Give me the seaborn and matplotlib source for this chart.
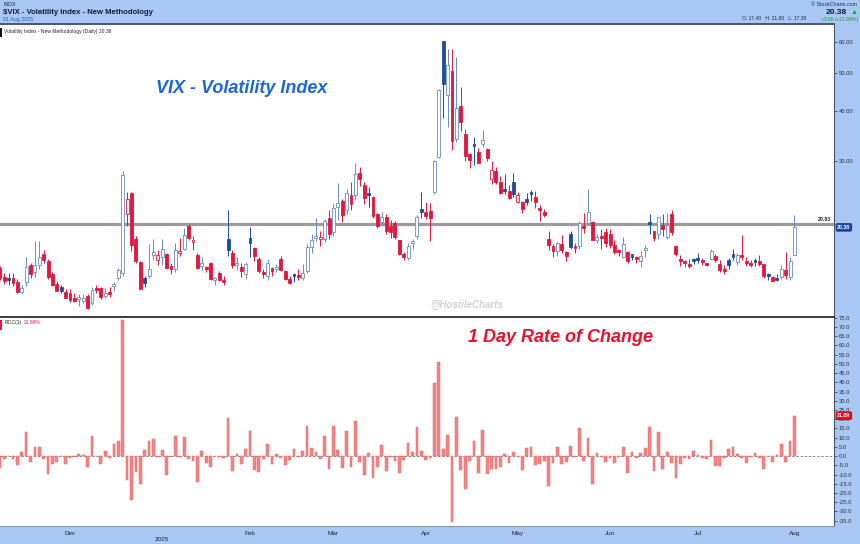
import matplotlib
matplotlib.use('Agg')
import matplotlib.pyplot as plt
import matplotlib.transforms as mtransforms
from matplotlib.ticker import FixedLocator, FormatStrFormatter, NullLocator
import numpy as np
import pandas as pd
import seaborn as sns

# trading calendar of the chart
first_day, last_day = '2024-11-07', '2025-08-01'
holidays = ['2024-11-28', '2024-12-25', '2025-01-01', '2025-01-09', '2025-01-20',
            '2025-02-17', '2025-04-18', '2025-05-26', '2025-06-19', '2025-07-04']
prior_close = 16.27
level_line = 20.83

# daily OHLC, one line per month (Nov .. Aug)
opens = [
    16.1, 15.3, 15.0, 15.2, 14.8, 14.0, 14.8, 16.4, 15.7, 16.4, 17.5, 16.8, 15.5, 14.7, 14.4, 14.0,
    13.9, 13.5, 13.4, 13.3, 13.7, 13.1, 14.3, 14.3, 13.7, 14.0, 14.5, 15.2, 15.6, 22.0, 24.9, 19.0, 16.7, 15.2, 15.4, 17.4, 16.9,
    17.2, 17.5, 16.1, 16.0, 17.6, 18.0, 20.5, 18.7, 17.4, 16.3, 16.0, 16.6, 15.0, 15.6, 15.0, 19.0, 17.6, 16.4, 16.2, 15.5,
    19.2, 18.1, 17.0, 15.6, 15.4, 16.1, 16.0, 17.0, 15.8, 15.1, 15.4, 15.4, 15.2, 15.8, 18.2, 19.2, 19.0, 19.0, 21.5,
    19.8, 22.9, 23.7, 22.5, 24.6, 24.6, 28.0, 26.1, 24.9, 24.3, 22.0, 21.0, 21.6, 20.6, 20.9, 18.9, 17.5, 17.1, 18.6, 19.4, 22.7,
    22.3, 22.4, 25.0, 30.7, 60.1, 44.0, 50.5, 34.0, 41.2, 35.0, 31.3, 32.9, 31.5, 33.0, 32.1, 27.0, 28.3, 26.5, 25.5, 25.2, 26.5,
    23.6, 23.6, 24.0, 24.8, 24.3, 22.6, 22.3, 19.1, 18.3, 17.8, 18.5, 17.7, 19.6, 18.1, 18.3, 20.6, 20.9, 21.0, 18.9, 19.3, 19.8,
    19.6, 18.4, 17.7, 17.2, 17.7, 17.5, 17.2, 16.8, 17.9, 21.0, 19.9, 19.6, 20.7, 19.3, 22.0, 18.3, 17.0, 16.8, 16.4, 16.8,
    17.0, 16.9, 16.6, 17.0, 17.3, 16.5, 15.9, 16.9, 17.4, 16.7, 17.2, 16.8, 16.5, 16.8, 16.8, 16.5, 15.5, 15.3, 15.2, 15.3, 15.9, 15.3,
    17.40,
]
highs = [
    16.3, 15.6, 15.6, 15.6, 15.1, 14.6, 17.2, 16.6, 18.8, 18.8, 17.9, 17.0, 15.7, 14.9, 14.6, 14.2,
    14.2, 13.9, 13.8, 13.8, 13.8, 14.4, 14.6, 14.4, 14.3, 14.4, 14.8, 16.1, 28.3, 25.0, 25.1, 19.4, 16.8, 15.4, 18.5, 19.0, 17.9,
    19.0, 17.6, 16.6, 18.6, 19.2, 20.3, 20.8, 19.4, 17.6, 17.2, 16.3, 16.7, 15.3, 15.8, 15.4, 22.5, 17.9, 17.2, 16.6, 16.7,
    20.4, 18.2, 17.2, 16.0, 17.0, 16.2, 16.5, 17.3, 15.9, 15.4, 15.6, 16.0, 16.5, 18.5, 19.6, 21.5, 20.0, 21.4, 22.6,
    23.5, 26.4, 24.0, 25.5, 26.6, 29.6, 29.0, 26.5, 25.8, 24.5, 22.1, 22.3, 22.0, 21.3, 21.1, 18.9, 17.7, 18.6, 19.1, 21.9, 25.0,
    23.6, 23.5, 30.1, 45.6, 60.1, 57.5, 57.5, 54.9, 46.2, 36.1, 31.4, 34.5, 32.3, 35.8, 32.3, 30.0, 28.9, 27.4, 27.8, 26.0, 28.0,
    25.0, 23.8, 24.9, 25.3, 25.2, 23.2, 22.7, 19.9, 18.5, 18.7, 19.5, 17.8, 19.9, 18.6, 21.1, 22.2, 25.5, 21.1, 19.6, 20.2, 20.3,
    20.2, 18.9, 18.0, 19.3, 17.8, 17.5, 17.3, 17.8, 18.4, 22.0, 20.0, 21.7, 22.0, 22.1, 22.5, 18.4, 17.4, 16.9, 17.0, 17.1,
    17.6, 17.1, 16.6, 18.0, 17.5, 16.9, 16.4, 17.1, 18.0, 17.6, 19.5, 17.2, 16.9, 17.1, 17.4, 16.5, 15.6, 15.4, 15.5, 16.4, 17.7, 17.2,
    21.90,
]
lows = [
    15.0, 14.7, 14.6, 14.5, 13.9, 13.8, 14.5, 15.2, 15.3, 16.0, 16.6, 15.1, 14.5, 14.1, 13.9, 13.5,
    13.2, 13.2, 12.9, 13.1, 12.7, 13.0, 13.9, 13.4, 13.5, 13.6, 14.1, 15.0, 15.4, 20.5, 17.8, 16.6, 14.2, 14.4, 15.2, 16.9, 16.4,
    16.4, 16.0, 15.5, 15.7, 17.3, 17.9, 18.9, 17.9, 16.0, 15.9, 15.7, 15.0, 14.6, 14.9, 14.6, 17.3, 16.1, 15.9, 15.3, 15.1,
    17.2, 16.8, 15.6, 15.2, 15.0, 15.4, 15.7, 15.8, 15.0, 14.7, 14.8, 15.0, 15.0, 15.6, 17.6, 18.8, 18.3, 18.7, 19.0,
    19.4, 21.3, 21.0, 22.0, 22.6, 24.1, 25.9, 23.4, 23.0, 21.5, 20.3, 20.7, 19.6, 19.2, 19.0, 17.4, 16.9, 16.9, 18.0, 19.0, 21.5,
    21.4, 18.8, 24.7, 30.5, 38.6, 36.5, 31.9, 33.5, 35.6, 29.9, 28.8, 29.3, 29.6, 32.5, 29.9, 26.2, 26.2, 24.7, 24.8, 24.1, 24.3,
    23.5, 22.2, 23.2, 23.7, 22.8, 21.1, 21.6, 17.9, 17.2, 17.3, 17.6, 16.8, 18.0, 17.6, 18.0, 19.7, 20.7, 18.9, 18.6, 18.0, 18.2,
    18.1, 17.5, 17.3, 17.1, 16.6, 16.9, 16.6, 16.2, 17.2, 19.6, 18.8, 19.0, 19.4, 19.1, 19.5, 17.3, 16.3, 16.2, 16.1, 16.5,
    16.6, 16.4, 16.3, 16.9, 16.7, 15.7, 15.5, 16.0, 16.9, 16.4, 16.9, 16.3, 16.2, 16.3, 16.3, 15.2, 15.0, 14.9, 14.9, 15.1, 15.1, 15.0,
    17.39,
]
closes = [
    15.20, 14.94, 14.97, 14.71, 14.02, 14.31, 16.14, 15.58, 16.35, 17.16, 16.87, 15.24, 14.60, 14.10, 14.11, 13.51,
    13.34, 13.30, 13.45, 13.54, 12.77, 14.19, 14.18, 13.58, 13.92, 13.81, 14.69, 15.87, 27.62, 24.09, 18.36, 16.78, 14.27, 14.73, 15.95, 17.40, 17.35,
    17.93, 16.13, 16.04, 17.82, 17.70, 19.54, 19.19, 18.71, 16.12, 16.60, 15.97, 15.06, 15.10, 15.02, 14.85, 17.90, 16.41, 16.56, 15.84, 16.43,
    18.62, 17.21, 15.77, 15.50, 16.54, 15.81, 16.02, 15.89, 15.10, 14.77, 15.35, 15.27, 15.66, 18.21, 18.98, 19.43, 19.10, 21.13, 19.63,
    22.78, 23.51, 21.93, 24.87, 23.37, 27.86, 26.92, 24.23, 24.66, 21.77, 20.51, 21.70, 19.90, 19.80, 19.28, 17.48, 17.15, 18.33, 18.69, 21.65, 22.28,
    21.77, 21.51, 30.02, 45.31, 46.98, 52.33, 33.62, 40.72, 37.56, 30.89, 30.12, 32.64, 29.65, 33.82, 30.57, 28.45, 26.47, 24.84, 25.15, 24.17, 24.70,
    24.60, 22.68, 23.64, 24.76, 23.55, 22.48, 21.90, 18.39, 17.72, 18.62, 17.83, 17.24, 18.14, 18.09, 20.87, 20.28, 22.29, 18.96, 19.31, 19.18, 18.57,
    18.36, 17.69, 17.61, 18.48, 16.77, 17.16, 16.95, 17.26, 18.02, 20.82, 19.11, 21.60, 20.14, 20.62, 19.83, 17.48, 16.76, 16.59, 16.32, 16.73,
    16.83, 16.64, 16.38, 17.79, 16.81, 15.94, 15.78, 16.40, 17.20, 17.38, 17.16, 16.52, 16.41, 16.65, 16.50, 15.37, 15.39, 14.93, 15.03, 15.98, 15.48, 16.72,
    20.38,
]

dates = pd.bdate_range(first_day, last_day, freq='C', holidays=holidays)
df = pd.DataFrame({'date': dates, 'open': opens, 'high': highs, 'low': lows, 'close': closes})
df['idx'] = np.arange(len(df))
prev = df['close'].shift(1).fillna(prior_close)
df['roc'] = (df['close'] / prev - 1) * 100

sns.set_style('white')
plt.rcParams['font.family'] = ['Liberation Sans', 'DejaVu Sans']

BG = '#a9c7f5'
RED = '#e3163f'
BLUE = '#1d4c9f'
BLUE_LT = '#6a8cc4'
SPINE = '#4b5670'

fig = plt.figure(figsize=(8.6, 5.44), dpi=100, facecolor=BG)
ax1 = fig.add_axes([0, 0.41728, 0.96977, 0.53860])
ax2 = fig.add_axes([0, 0.03309, 0.96977, 0.38419])

# --- candles ---
up = df['close'] >= prev
filled = df['close'] < df['open']
line_col = np.where(up, BLUE_LT, RED)
solid_col = np.where(up, BLUE, RED)
face = np.where(filled, solid_col, 'white')
edge = np.where(filled, solid_col, line_col)
body_lo = np.minimum(df['open'], df['close'])
body_h = np.maximum((df['close'] - df['open']).abs(), df['close'] * 0.012)

ax1.axhline(level_line, color='#9c9c9c', lw=2.3, zorder=1)
ax1.vlines(df['idx'], df['low'], df['high'], colors=list(np.where(filled, solid_col, line_col)),
           lw=0.7, zorder=2)
ax1.bar(df['idx'], body_h, bottom=body_lo, width=0.66, color=list(face),
        edgecolor=list(edge), linewidth=0.6, zorder=3)

ax1.set_yscale('log')
ax1.set_ylim(12.1, 66.5)
ax1.yaxis.tick_right()
ax1.yaxis.set_major_locator(FixedLocator([30, 40, 50, 60]))
ax1.yaxis.set_major_formatter(FormatStrFormatter('%.2f'))
ax1.yaxis.set_minor_locator(NullLocator())
ax1.tick_params(axis='y', labelsize=4.2, length=2, width=0.5, color='#333333',
                labelcolor='#333333', pad=1.5)
ax1.tick_params(axis='x', bottom=False, labelbottom=False)

# --- rate of change ---
sns.barplot(data=df, x='idx', y='roc', native_scale=True, color='#f58383', saturation=1,
            edgecolor='#e86a6a', linewidth=0.35, width=0.62, errorbar=None, ax=ax2, zorder=3)
ax2.axhline(0, color='#777777', lw=0.6, ls=(0, (3, 2)), zorder=1)
ax2.set_xlabel('')
ax2.set_ylabel('')
ax2.set_ylim(-37.9, 75.4)
ax2.yaxis.tick_right()
ax2.yaxis.set_major_locator(FixedLocator(np.arange(-35, 76, 5)))
ax2.yaxis.set_major_formatter(FormatStrFormatter('%.1f'))
ax2.tick_params(axis='y', labelsize=4.2, length=2, width=0.5, color='#333333',
                labelcolor='#333333', pad=1.5)

month_first = df.groupby(df['date'].dt.to_period('M'))['idx'].first().iloc[1:]
month_labels = [('\n2025' if p.month == 1 else p.strftime('%b')) for p in month_first.index]
ax2.set_xticks(month_first.values)
ax2.set_xticklabels(month_labels)
ax2.tick_params(axis='x', labelsize=4.6, length=2, width=0.5, color='#333333',
                labelcolor='#222222', pad=1.5, direction='out')

for ax in (ax1, ax2):
    ax.set_xlim(0.05, 190)
    ax.set_facecolor('white')
    ax.spines['left'].set_visible(False)
    ax.spines['right'].set_color(SPINE)
    ax.spines['right'].set_linewidth(0.8)
ax1.spines['top'].set_color(SPINE)
ax1.spines['top'].set_linewidth(1.4)
ax1.spines['bottom'].set_visible(False)
ax2.spines['top'].set_color('#2b2b2b')
ax2.spines['top'].set_linewidth(1.3)
ax2.spines['bottom'].set_color('#8a97ad')
ax2.spines['bottom'].set_linewidth(0.8)

# --- labels inside panels ---
ax1.text(0.2896, 0.78, 'VIX - Volatility Index', transform=ax1.transAxes, ha='center', va='center',
         fontsize=13, fontweight='bold', fontstyle='italic', color='#1a66da')
ax2.text(0.672, 0.90, '1 Day Rate of Change', transform=ax2.transAxes, ha='center', va='center',
         fontsize=13, fontweight='bold', fontstyle='italic', color='#e8112d')
ax1.text(0.56, 0.04, '@HostileCharts', transform=ax1.transAxes, ha='center', va='center',
         fontsize=7, fontweight='bold', fontstyle='italic', color='#d2d2d2')

ax1.text(0.005, 0.983, 'Volatility Index - New Methodology (Daily) 20.38', transform=ax1.transAxes,
         ha='left', va='top', fontsize=3.6, color='#222222')
ax1.axvspan(0.05, 0.45, ymin=0.955, ymax=0.985, color='#111111', lw=0)
ax2.text(0.005, 0.985, 'ROC(1)', transform=ax2.transAxes, ha='left', va='top',
         fontsize=3.6, color='#222222')
ax2.text(0.029, 0.985, '21.89%', transform=ax2.transAxes, ha='left', va='top',
         fontsize=3.6, color=RED)
ax2.axvspan(0.05, 0.45, ymin=0.94, ymax=0.985, color=RED, lw=0)

blend1 = mtransforms.blended_transform_factory(ax1.transAxes, ax1.transData)
ax1.text(0.988, level_line * 1.012, f'{level_line:.2f}', transform=blend1, ha='center', va='bottom',
         fontsize=3.8, fontweight='bold', color='#222222')
ax1.text(1.004, closes[-1], f'{closes[-1]:.2f}', transform=blend1, ha='left', va='center',
         fontsize=3.8, fontweight='bold', color='white', clip_on=False,
         bbox=dict(boxstyle='round,pad=0.25', fc=BLUE, ec='#0f2f70', lw=0.5))
blend2 = mtransforms.blended_transform_factory(ax2.transAxes, ax2.transData)
ax2.text(1.004, df['roc'].iloc[-1], f"{df['roc'].iloc[-1]:.2f}", transform=blend2, ha='left',
         va='center', fontsize=3.8, fontweight='bold', color='white', clip_on=False,
         bbox=dict(boxstyle='round,pad=0.25', fc='#e8101f', ec='#b00010', lw=0.5))

# --- header band ---
fig.text(0.004, 1 - 4 / 544, 'INDX', ha='left', va='center', fontsize=3.8, color='#1c2a48')
fig.text(0.003, 1 - 12 / 544, '$VIX - Volatility Index - New Methodology', ha='left', va='center',
         fontsize=5.6, fontweight='bold', color='#0e1a3a')
fig.text(0.003, 1 - 19 / 544, '01 Aug 2025', ha='left', va='center', fontsize=3.8, color='#2e5db5')
fig.text(0.997, 1 - 4 / 544, '\u00a9 StockCharts.com', ha='right', va='center', fontsize=3.8,
         color='#1c2a48')
fig.text(0.985, 1 - 12 / 544, '20.38', ha='right', va='center', fontsize=6,
         fontweight='bold', color='#0e1a3a')
fig.text(0.997, 1 - 12 / 544, '\u25b2', ha='right', va='center', fontsize=5, color='#1f9a3a')
fig.text(0.938, 1 - 19 / 544, 'O: 17.40   H: 21.90   L: 17.39', ha='right', va='center',
         fontsize=3.6, color='#1c2a48')
fig.text(0.997, 1 - 19 / 544, '+3.66 (+21.89%)', ha='right', va='center', fontsize=3.6,
         color='#1f9a3a')

fig.savefig('out.png', dpi=100, facecolor=BG)
